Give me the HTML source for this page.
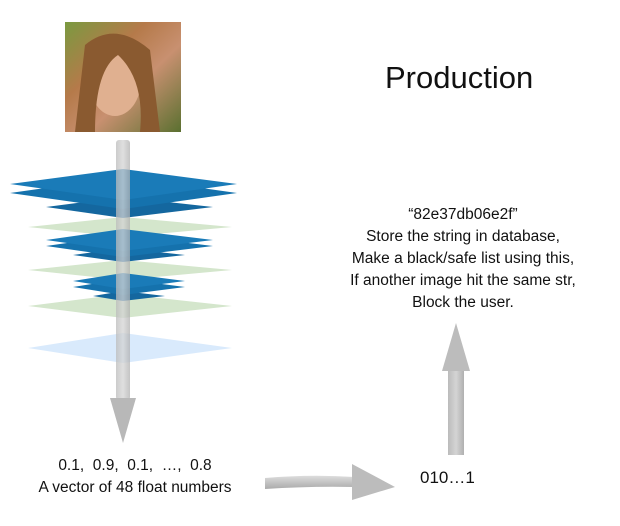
<!DOCTYPE html>
<html><head><meta charset="utf-8"><style>
body{margin:0;background:#fff;width:620px;height:526px;overflow:hidden;position:relative;font-family:"Liberation Sans",Helvetica,sans-serif;color:#111}
.t{position:absolute;text-align:center;white-space:nowrap}
</style></head><body>
<svg width="620" height="526" style="position:absolute;left:0;top:0">
<defs>
<linearGradient id="ph" x1="0" y1="0" x2="1" y2="1"><stop offset="0" stop-color="#7a9a40"/><stop offset="0.35" stop-color="#b57a4a"/><stop offset="0.6" stop-color="#c89070"/><stop offset="1" stop-color="#5a7030"/></linearGradient>
<linearGradient id="ag" x1="0" y1="0" x2="1" y2="0"><stop offset="0" stop-color="#bbb"/><stop offset="0.5" stop-color="#d4d4d4"/><stop offset="1" stop-color="#b0b0b0"/></linearGradient>
<linearGradient id="hg" x1="0" y1="0" x2="0" y2="1"><stop offset="0" stop-color="#ddd"/><stop offset="1" stop-color="#aaa"/></linearGradient>
</defs>
<g>
<rect x="65" y="22" width="116" height="110" fill="url(#ph)"/>
<ellipse cx="115" cy="80" rx="26" ry="36" fill="#e0b090"/>
<path d="M85 45 Q115 20 150 50 L160 132 L140 132 Q145 80 118 55 Q95 70 95 132 L75 132 Z" fill="#8a5a30"/>
</g>
<g>
<polygon points="28,348 123,333 232,348 123,363" fill="#d9eafc"/>
<polygon points="28,306 123,294 232,306 123,318" fill="#d4e6cc"/>
<polygon points="28,270 123,260 232,270 123,280" fill="#d4e6cc"/>
<polygon points="28,227 123,217 232,227 123,237" fill="#d4e6cc"/>
<polygon points="93,296 123,291 165,296 123,301" fill="#14679f"/>
<polygon points="73,287 123,279 185,287 123,295" fill="#1572ad"/>
<polygon points="73,281 123,273 185,281 123,289" fill="#1a7bb8"/>
<polygon points="73,255 123,248 185,255 123,262" fill="#14679f"/>
<polygon points="46,246 123,235 213,246 123,257" fill="#1572ad"/>
<polygon points="46,240 123,229 213,240 123,251" fill="#1a7bb8"/>
<polygon points="46,207 123,197 213,207 123,218" fill="#14679f"/>
<polygon points="10,193 123,177 237,193 123,209" fill="#1572ad"/>
<polygon points="10,184 123,169 237,184 123,200" fill="#1a7bb8"/>
</g>
<g>
<rect x="116" y="140" width="14" height="260" fill="url(#ag)" rx="3" opacity="0.75"/>
<polygon points="110,398 136,398 123,443" fill="#b8b8b8"/>
</g>
<g>
<path d="M265 478 Q310 474 355 477 L355 487 Q310 486 265 489 Z" fill="url(#hg)"/>
<polygon points="352,464 395,487 352,500" fill="#bcbcbc"/>
</g>
<g>
<rect x="448" y="368" width="16" height="87" fill="url(#ag)"/>
<polygon points="442,371 470,371 456,323" fill="#bcbcbc"/>
</g>
</svg>
<div class="t" style="left:385px;top:60px;font-size:31px">Production</div>
<div class="t" style="left:313px;width:300px;top:204px;font-size:15.5px;line-height:22px">“82e37db06e2f”<br>Store the string in database,<br>Make a black/safe list using this,<br>If another image hit the same str,<br>Block the user.</div>
<div class="t" style="left:10px;width:250px;top:455px;font-size:15.5px;line-height:22px">0.1,&nbsp; 0.9,&nbsp; 0.1,&nbsp; …,&nbsp; 0.8<br>A vector of 48 float numbers</div>
<div class="t" style="left:420px;top:468px;font-size:17px">010…1</div>
</body></html>
